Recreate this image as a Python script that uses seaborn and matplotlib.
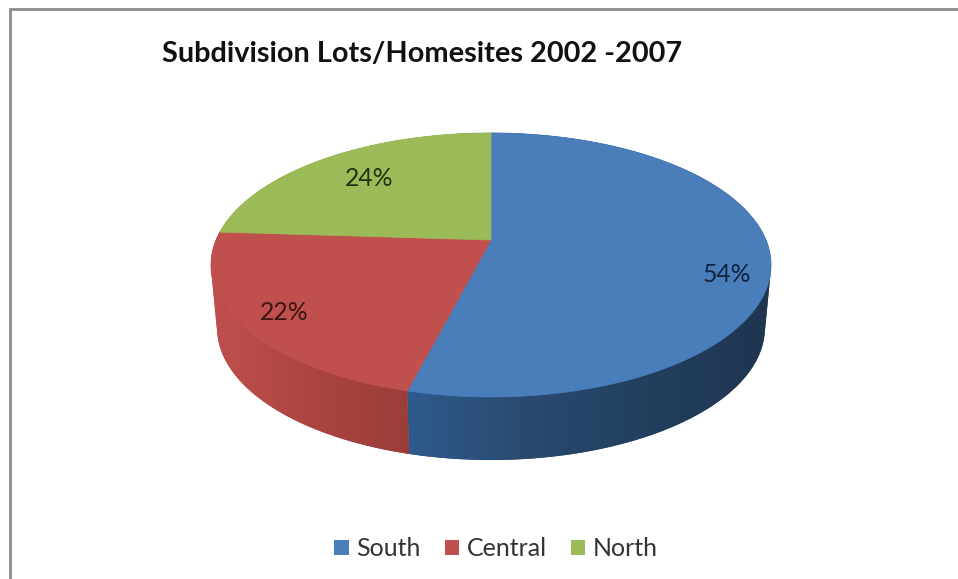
import numpy as np
import matplotlib
matplotlib.use("Agg")
import matplotlib.pyplot as plt
from matplotlib.colors import LinearSegmentedColormap
from matplotlib.patches import Patch, Polygon
import seaborn as sns

# Share of subdivision lots by region
regions = ["South", "Central", "North"]
shares = [54, 22, 24]
top_colors = ["#4a7ebb", "#c0504d", "#9bbb59"]
wall_ramps = [
    ["#1f3550", "#223f5e", "#29496f", "#2e5b8c"],
    ["#9a3d3a", "#a5423f", "#b34946", "#bf4f4c"],
    ["#5f7a30", "#6f8c3a", "#7f9c45", "#8aa84e"],
]
chart_title = "Subdivision Lots/Homesites 2002 -2007"

sns.set_theme(style="white")
plt.rcParams["font.family"] = ["Lato", "DejaVu Sans"]

fig = plt.figure(figsize=(9.58, 5.79), dpi=100)
ax = fig.add_axes([0, 0, 1, 1])
ax.set_axis_off()

# Tilted disc: a circle seen through a projective camera
CX, CY, A, B, K, DEPTH, FLOOR_SCALE = 491, 240, 275, 127.3, 0.189, 63, 0.978


def project(theta):
    x, y = np.cos(theta), np.sin(theta)
    w = 1 + K * y
    return CX + A * x / w, CY - B * y / w


def convex_hull(points):
    pts = sorted(map(tuple, points))

    def half(seq):
        chain = []
        for p in seq:
            while len(chain) > 1 and (
                (chain[-1][0] - chain[-2][0]) * (p[1] - chain[-2][1])
                - (chain[-1][1] - chain[-2][1]) * (p[0] - chain[-2][0])
            ) <= 0:
                chain.pop()
            chain.append(p)
        return chain[:-1]

    return np.array(half(pts) + half(pts[::-1]))


edges = 360 * np.cumsum([0] + shares) / sum(shares)
angles = np.deg2rad(90 - edges)

# Side walls first, each shaded left to right, then the top faces over them.
# The hull keeps the silhouette tangent between the rim and the floor arc.
for i, region in enumerate(regions):
    t = np.linspace(angles[i], angles[i + 1], 240)
    px, py = project(t)
    low_x = CX + (px - CX) * FLOOR_SCALE
    wall = convex_hull(np.column_stack([np.r_[px, low_x], np.r_[py, py + DEPTH]]))
    poly = Polygon(wall, closed=True, facecolor=wall_ramps[i][1], edgecolor="none", zorder=1)
    ax.add_patch(poly)
    ramp = LinearSegmentedColormap.from_list(region, wall_ramps[i])
    shade = np.linspace(1, 0, 256).reshape(1, -1)
    image = ax.imshow(
        shade, cmap=ramp, vmin=0, vmax=1, aspect="auto", zorder=1.5,
        extent=[wall[:, 0].min(), wall[:, 0].max(), wall[:, 1].max(), wall[:, 1].min()],
    )
    image.set_clip_path(poly)

for i, region in enumerate(regions):
    t = np.linspace(angles[i], angles[i + 1], 240)
    px, py = project(t)
    face = np.column_stack([np.r_[CX, px], np.r_[CY, py]])
    ax.add_patch(Polygon(face, closed=True, facecolor=top_colors[i],
                         edgecolor=top_colors[i], linewidth=0.5, zorder=2))

# Value labels
label_xy = [(727, 274), (284, 313), (369, 179)]
label_colors = ["#14233f", "#3a1512", "#26300f"]
for value, (lx, ly), color in zip(shares, label_xy, label_colors):
    ax.text(lx, ly, f"{value}%", ha="center", va="center", fontsize=17.8,
            color=color, zorder=3)

ax.text(162, 54, chart_title, ha="left", va="center", fontsize=20.8,
        fontweight="bold", color="#111111")

# Chart frame, running off the top-right and bottom-left of the canvas
ax.plot([10.5, 10.5, 970], [590, 9, 9], color="#8c8c8c", linewidth=2, zorder=4,
        solid_joinstyle="miter")

handles = [Patch(facecolor=c, edgecolor="none", label=r) for c, r in zip(top_colors, regions)]
ax.legend(handles=handles, ncol=3, loc="center", bbox_to_anchor=(496, 549),
          bbox_transform=ax.transData, frameon=False, fontsize=18,
          handlelength=0.58, handleheight=0.58, handletextpad=0.3,
          columnspacing=0.95, labelcolor="#333333")

ax.set_xlim(0, 958)
ax.set_ylim(579, 0)
fig.savefig("out.png", dpi=100, facecolor="white")
